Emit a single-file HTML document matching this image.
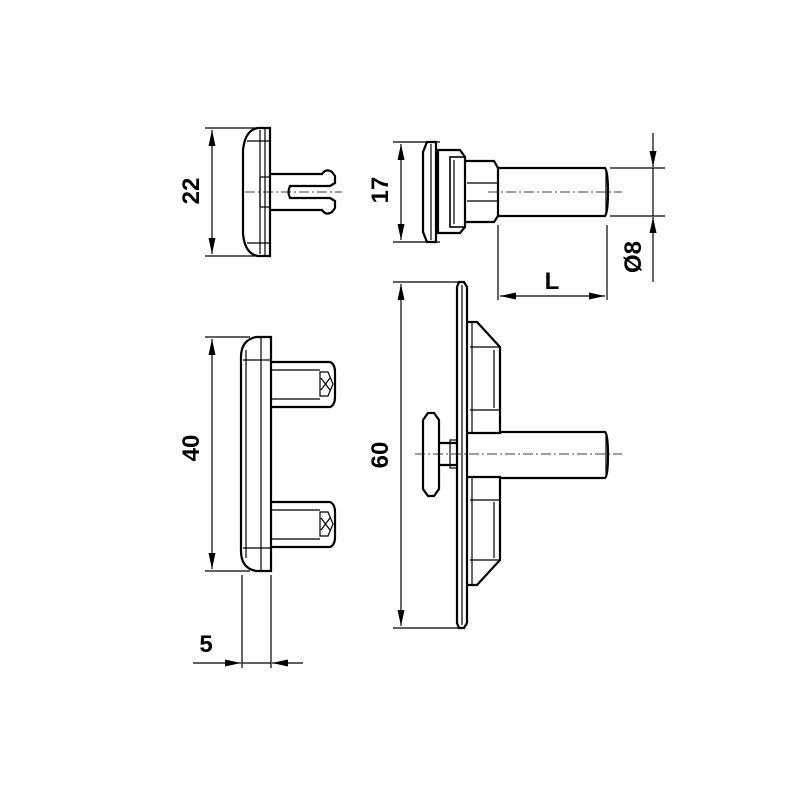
<!DOCTYPE html>
<html><head><style>html,body{margin:0;padding:0;background:#fff}svg{display:block}</style></head>
<body>
<svg width="800" height="800" viewBox="0 0 800 800" xmlns="http://www.w3.org/2000/svg">
<defs>
<marker id="a" viewBox="0 0 16 7" refX="16" refY="3.5" markerWidth="16" markerHeight="7" markerUnits="userSpaceOnUse" orient="auto-start-reverse"><path d="M0,0L16,3.5L0,7z" fill="#000"/></marker>
</defs>
<g fill="none" stroke="#000" stroke-width="1.2">
<!-- View 1 -->
<line x1="205" y1="128" x2="266" y2="128"/><line x1="205" y1="256" x2="266" y2="256"/>
<line x1="212" y1="130" x2="212" y2="254" marker-start="url(#a)" marker-end="url(#a)"/>
<path d="M270,128 L258,128 Q245,130 243,150 L243,234 Q245,254 258,256 L270,256 Z" stroke-width="2.2"/>
<line x1="260" y1="130" x2="260" y2="254"/><line x1="265" y1="128" x2="265" y2="256"/>
<line x1="247" y1="141" x2="270" y2="141"/><line x1="247" y1="243" x2="270" y2="243"/>
<rect x="260" y="177" width="10" height="30"/>
<path d="M270,174 L322,174 Q326,168 332,172 L335,176 L335,183 L330,186 L290,186 Q287,192 290,198 L330,198 L335,201 L335,208 L332,212 Q326,216 322,210 L270,210" stroke-width="2.2"/>
<line x1="245" y1="192" x2="342" y2="192" stroke-dasharray="10,3,2,3" stroke-width="0.8"/>
<!-- View 2 -->
<line x1="393" y1="142" x2="440" y2="142"/><line x1="393" y1="242" x2="440" y2="242"/>
<line x1="401" y1="144" x2="401" y2="240" marker-start="url(#a)" marker-end="url(#a)"/>
<path d="M427,142 L436,142 L436,242 L427,242 L423,232 L423,152 Z" stroke-width="2.2"/>
<line x1="431" y1="144" x2="431" y2="240"/>
<path d="M438,150 L460,150 L465,157 L465,227 L460,233 L438,233 Z" stroke-width="2.2"/>
<rect x="450" y="157" width="15" height="70" stroke-width="1.6"/>
<line x1="454" y1="160" x2="454" y2="224"/>
<path d="M465,161 L494,161 L498,168 L498,216 L494,222 L465,222" stroke-width="2.2"/>
<line x1="467" y1="183" x2="498" y2="183"/><line x1="467" y1="201" x2="498" y2="201"/>
<path d="M498,168 L605,168 Q608,172 608,192 Q608,212 605,216 L498,216" stroke-width="2.2"/>
<line x1="606" y1="169" x2="606" y2="215"/>
<line x1="488" y1="192" x2="622" y2="192" stroke-dasharray="10,3,2,3" stroke-width="0.8"/>
<line x1="610" y1="168" x2="665" y2="168"/><line x1="610" y1="216" x2="665" y2="216"/>
<line x1="653" y1="133" x2="653" y2="167" marker-end="url(#a)"/>
<line x1="653" y1="168" x2="653" y2="216"/>
<line x1="653" y1="282" x2="653" y2="217" marker-end="url(#a)"/>
<line x1="498" y1="225" x2="498" y2="300"/><line x1="607" y1="225" x2="607" y2="300"/>
<line x1="500" y1="296" x2="605" y2="296" marker-start="url(#a)" marker-end="url(#a)"/>
<!-- View 3 -->
<line x1="205" y1="337" x2="250" y2="337"/><line x1="205" y1="571" x2="250" y2="571"/>
<line x1="212" y1="339" x2="212" y2="569" marker-start="url(#a)" marker-end="url(#a)"/>
<path d="M271,337 L256,337 Q241,340 241,357 L241,551 Q241,568 256,571 L271,571 Z" stroke-width="2.2"/>
<line x1="246" y1="350" x2="246" y2="558"/><line x1="261" y1="337" x2="261" y2="571"/>
<line x1="243" y1="360" x2="271" y2="360"/><line x1="243" y1="548" x2="271" y2="548"/>
<path d="M271,362 L330,362 Q335,364 335,372 L335,397 Q335,405 330,407 L271,407" stroke-width="2.2"/>
<line x1="272" y1="370" x2="320" y2="370"/><line x1="272" y1="399" x2="320" y2="399"/>
<path d="M320,372 L328,372 L333,384 L328,396 L320,396 Z M321,378 L330,390 M321,390 L330,378"/>
<path d="M271,502 L330,502 Q335,504 335,512 L335,537 Q335,545 330,547 L271,547" stroke-width="2.2"/>
<line x1="272" y1="510" x2="320" y2="510"/><line x1="272" y1="539" x2="320" y2="539"/>
<path d="M320,512 L328,512 L333,524 L328,536 L320,536 Z M321,518 L330,530 M321,530 L330,518"/>
<line x1="242" y1="575" x2="242" y2="668"/><line x1="271" y1="575" x2="271" y2="668"/>
<line x1="193" y1="663" x2="241" y2="663" marker-end="url(#a)"/>
<line x1="242" y1="663" x2="271" y2="663"/>
<line x1="303" y1="663" x2="272" y2="663" marker-end="url(#a)"/>
<!-- View 4 -->
<line x1="393" y1="282" x2="462" y2="282"/><line x1="393" y1="628" x2="462" y2="628"/>
<line x1="401" y1="284" x2="401" y2="626" marker-start="url(#a)" marker-end="url(#a)"/>
<path d="M459,282 L464,282 L467,287 L467,623 L464,628 L459,628 L457,623 L457,287 Z" stroke-width="2.2"/>
<line x1="462" y1="285" x2="462" y2="625"/>
<path d="M467,322 L477,322 L500,347 L500,433 L467,433" stroke-width="2.2"/>
<line x1="470" y1="347" x2="500" y2="347"/><line x1="470" y1="410" x2="500" y2="410"/>
<line x1="472" y1="322" x2="472" y2="433"/><line x1="494" y1="350" x2="494" y2="408"/>
<path d="M467,477 L500,477 L500,560 L477,585 L467,585" stroke-width="2.2"/>
<line x1="470" y1="560" x2="500" y2="560"/><line x1="470" y1="500" x2="500" y2="500"/>
<line x1="472" y1="477" x2="472" y2="585"/><line x1="494" y1="502" x2="494" y2="558"/>
<path d="M500,432 L605,432 Q608,434 608,455 Q608,476 605,478 L500,478" stroke-width="2.2"/>
<line x1="606" y1="433" x2="606" y2="477"/>
<path d="M428,413 L434,413 L439,420 L439,489 L434,496 L428,496 L423,489 L423,420 Z" stroke-width="2.2"/>
<path d="M439,443 L457,443 M439,465 L457,465" stroke-width="2.2"/>
<rect x="450" y="440" width="7" height="28"/>
<line x1="415" y1="454" x2="622" y2="454" stroke-dasharray="10,3,2,3" stroke-width="0.8"/>
</g>
<g font-family="Liberation Sans, sans-serif" font-weight="bold" font-size="24" fill="#000" text-anchor="middle">
<text transform="translate(199,191) rotate(-90)">22</text>
<text transform="translate(388,190) rotate(-90)">17</text>
<text transform="translate(641,257) rotate(-90)">Ø8</text>
<text x="552" y="289">L</text>
<text transform="translate(199,448) rotate(-90)">40</text>
<text transform="translate(388,455) rotate(-90)">60</text>
<text x="206" y="652">5</text>
</g>
</svg>
</body></html>
